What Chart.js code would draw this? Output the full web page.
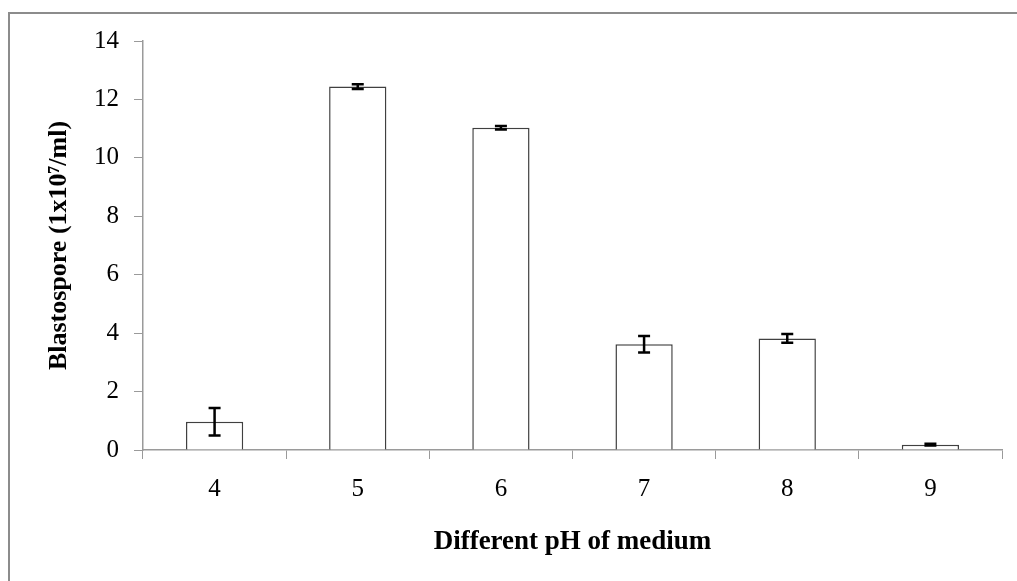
<!DOCTYPE html>
<html>
<head>
<meta charset="utf-8">
<script src="https://cdn.jsdelivr.net/npm/chart.js@4"></script>
<style>
  body { margin: 0; background: #fff; }
  canvas { display: block; }
</style>
</head>
<body>
<canvas id="phChart" width="1017" height="581"></canvas>
<script>
var phLabels = ['4', '5', '6', '7', '8', '9'];
var blastospore = [0.97, 12.44, 11.03, 3.62, 3.82, 0.18];
var stdError = [0.47, 0.08, 0.06, 0.28, 0.15, 0.03];
var yTicks = [0, 2, 4, 6, 8, 10, 12, 14];

// outer frame like the original chart box
var framePlugin = {
    id: 'frame',
    beforeDraw: function(chart) {
        var ctx = chart.ctx;
        ctx.save();
        ctx.fillStyle = '#ffffff';
        ctx.fillRect(0, 0, chart.width, chart.height);
        ctx.strokeStyle = '#8c8c8c';
        ctx.lineWidth = 2;
        ctx.strokeRect(9, 13, chart.width + 20, chart.height + 20);
        ctx.restore();
    }
};

// error bars drawn through the y scale
var errorBarPlugin = {
    id: 'errorBars',
    afterDatasetsDraw: function(chart) {
        var ctx = chart.ctx;
        var yScale = chart.scales.y;
        var meta = chart.getDatasetMeta(0);
        ctx.save();
        ctx.strokeStyle = '#000000';
        ctx.lineWidth = 2.5;
        for (var i = 0; i < meta.data.length; i++) {
            var x = meta.data[i].x;
            var yTop = yScale.getPixelForValue(blastospore[i] + stdError[i]);
            var yBot = yScale.getPixelForValue(blastospore[i] - stdError[i]);
            ctx.beginPath();
            ctx.moveTo(x, yTop);
            ctx.lineTo(x, yBot);
            ctx.moveTo(x - 6, yTop);
            ctx.lineTo(x + 6, yTop);
            ctx.moveTo(x - 6, yBot);
            ctx.lineTo(x + 6, yBot);
            ctx.stroke();
        }
        ctx.restore();
    }
};

var ctx = document.getElementById('phChart').getContext('2d');
var myChart = new Chart(ctx, {
    type: 'bar',
    data: {
        labels: phLabels,
        datasets: [{
            data: blastospore,
            backgroundColor: '#ffffff',
            borderColor: '#404040',
            borderWidth: 1.5,
            barPercentage: 0.4,
            categoryPercentage: 1.0
        }]
    },
    options: {
        responsive: false,
        animation: false,
        layout: {
            padding: { left: 0, top: 41, right: 15, bottom: 0 }
        },
        scales: {
            x: {
                grid: {
                    display: true,
                    drawOnChartArea: false,
                    color: '#9a9a9a',
                    tickLength: 9,
                    offset: true
                },
                border: { color: '#9a9a9a', width: 1.5 },
                ticks: {
                    color: '#000000',
                    padding: 15,
                    font: { family: '"Liberation Serif", "Times New Roman", serif', size: 25 }
                },
                title: {
                    display: true,
                    text: 'Different pH of medium',
                    color: '#000000',
                    padding: { top: 0, bottom: 23 },
                    font: { family: '"Liberation Serif", "Times New Roman", serif', size: 27, weight: 'bold' }
                },
                afterFit: function(scale) { scale.height = 131; }
            },
            y: {
                min: 0,
                max: 14,
                afterBuildTicks: function(scale) {
                    scale.ticks = yTicks.map(function(v) { return { value: v }; });
                },
                grid: {
                    display: true,
                    drawOnChartArea: false,
                    color: '#9a9a9a',
                    tickLength: 9
                },
                border: { color: '#9a9a9a', width: 1.5 },
                ticks: {
                    color: '#000000',
                    padding: 15,
                    font: { family: '"Liberation Serif", "Times New Roman", serif', size: 25 }
                },
                title: {
                    display: true,
                    text: 'Blastospore (1x10\u2077/ml)',
                    color: '#000000',
                    padding: { top: 44, bottom: 0 },
                    font: { family: '"Liberation Serif", "Times New Roman", serif', size: 26, weight: 'bold' }
                },
                afterFit: function(scale) { scale.width = 143; }
            }
        },
        plugins: {
            legend: { display: false },
            tooltip: { enabled: false }
        }
    },
    plugins: [framePlugin, errorBarPlugin]
});
</script>
</body>
</html>
